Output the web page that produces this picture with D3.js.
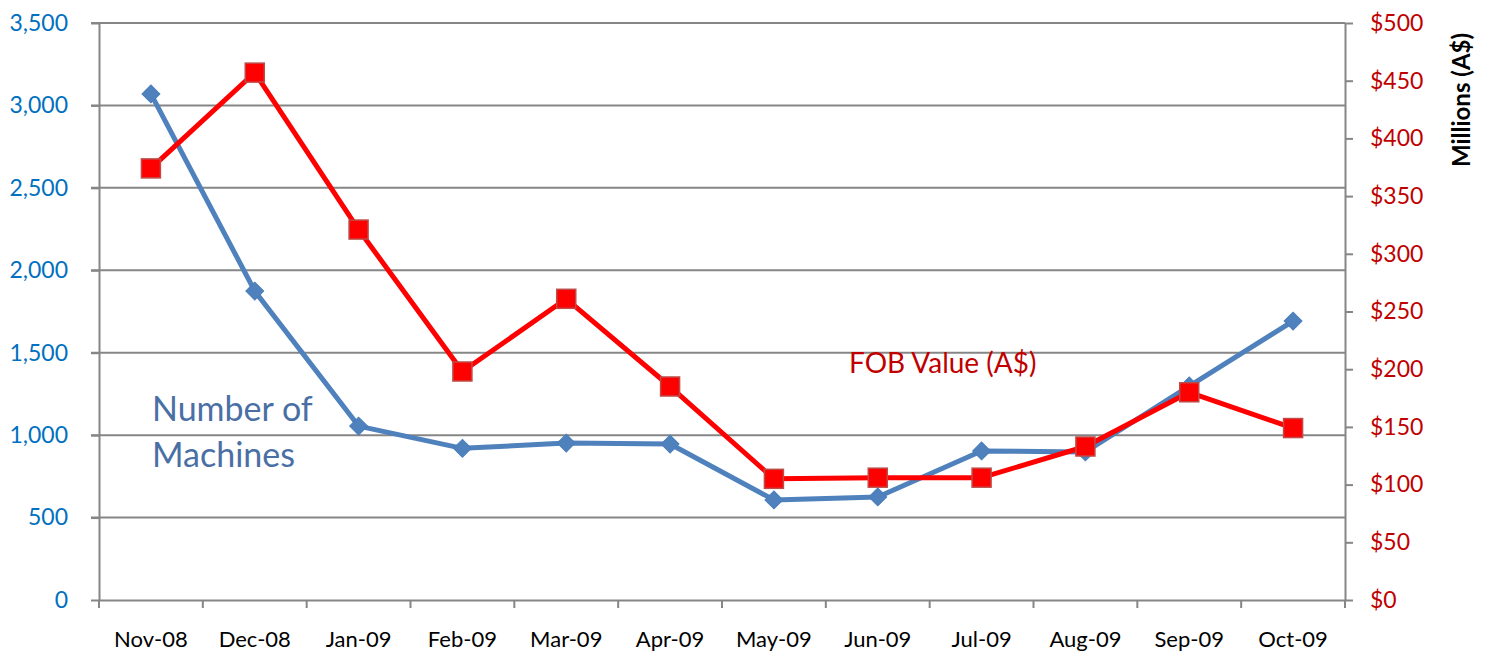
<!DOCTYPE html>
<html>
<head>
<meta charset="utf-8">
<script src="https://cdn.jsdelivr.net/npm/d3@7"></script>
<style>
  body { margin: 0; background: #fff; }
  svg { font-family: Lato, "Open Sans", sans-serif; }
</style>
</head>
<body>
<svg id="chart"></svg>
<script>
const months = ['Nov-08','Dec-08','Jan-09','Feb-09','Mar-09','Apr-09','May-09','Jun-09','Jul-09','Aug-09','Sep-09','Oct-09']
const machines = [3070, 1874, 1055, 920, 952, 946, 607, 625, 904, 898, 1298, 1692]
const fobValue = [374, 457, 321, 198, 261, 185, 105, 106, 106, 133, 180, 149]
const leftTicks = [0, 500, 1000, 1500, 2000, 2500, 3000, 3500]
const rightTicks = [0, 50, 100, 150, 200, 250, 300, 350, 400, 450, 500]

const width = 1486, height = 664
const margin = {top: 23, right: 141, bottom: 64, left: 99}
const font = 'Lato, "Open Sans", sans-serif'

const svg = d3.select('#chart').attr('width', width).attr('height', height)

const x = d3.scaleBand()
  .domain(months)
  .range([margin.left, width - margin.right])

const yL = d3.scaleLinear().domain([0, 3500]).range([height - margin.bottom, margin.top])
const yR = d3.scaleLinear().domain([0, 500]).range([height - margin.bottom, margin.top])

const axisColor = '#868686'

// gridlines
svg.append('g')
  .selectAll('line')
  .data(leftTicks.slice(1))
  .join('line')
    .attr('x1', margin.left - 8)
    .attr('x2', width - margin.right)
    .attr('y1', d => yL(d))
    .attr('y2', d => yL(d))
    .attr('stroke', axisColor)
    .attr('stroke-width', 2)

// left axis
const gl = svg.append('g')
  .attr('transform', 'translate(' + margin.left + ',0)')
  .call(d3.axisLeft(yL).tickValues(leftTicks).tickFormat(d3.format(',')).tickSize(8).tickPadding(23).tickSizeOuter(0))
gl.attr('font-family', font)
gl.select('.domain').attr('stroke', axisColor).attr('stroke-width', 2)
gl.selectAll('.tick line').attr('stroke', axisColor).attr('stroke-width', 2)
gl.selectAll('.tick text').attr('fill', '#0070c0').style('font-size', '23px')

// right axis
const gr = svg.append('g')
  .attr('transform', 'translate(' + (width - margin.right) + ',0)')
  .call(d3.axisRight(yR).tickValues(rightTicks).tickFormat(d => '$' + d).tickSize(8).tickPadding(17).tickSizeOuter(0))
gr.attr('font-family', font)
gr.select('.domain').attr('stroke', axisColor).attr('stroke-width', 2)
gr.selectAll('.tick line').attr('stroke', axisColor).attr('stroke-width', 2)
gr.selectAll('.tick text').attr('fill', '#c00000').style('font-size', '23px')

// bottom axis
const gb = svg.append('g')
  .attr('transform', 'translate(0,' + (height - margin.bottom) + ')')
  .call(d3.axisBottom(x).tickSize(0).tickPadding(31))
gb.attr('font-family', font)
gb.select('.domain').attr('stroke', axisColor).attr('stroke-width', 2)
gb.selectAll('.tick text').attr('fill', '#000').style('font-size', '22px')
svg.append('g')
  .selectAll('line')
  .data(months.concat(['end']))
  .join('line')
    .attr('x1', (d, i) => margin.left + i * x.step())
    .attr('x2', (d, i) => margin.left + i * x.step())
    .attr('y1', height - margin.bottom)
    .attr('y2', height - margin.bottom + 8)
    .attr('stroke', axisColor)
    .attr('stroke-width', 2)

const cx = d => x(d) + x.bandwidth() / 2

// machines series
svg.append('path')
  .datum(machines)
  .attr('fill', 'none')
  .attr('stroke', '#4f81bd')
  .attr('stroke-width', 5)
  .attr('stroke-linejoin', 'round')
  .attr('d', d3.line().x((d, i) => cx(months[i])).y(d => yL(d)))

svg.append('g')
  .selectAll('path')
  .data(machines)
  .join('path')
    .attr('d', d3.symbol(d3.symbolSquare, 160)())
    .attr('transform', (d, i) => 'translate(' + cx(months[i]) + ',' + yL(d) + ') rotate(45)')
    .attr('fill', '#4f81bd')
    .attr('stroke', '#4a7ebb')
    .attr('stroke-width', 1)

// FOB series
svg.append('path')
  .datum(fobValue)
  .attr('fill', 'none')
  .attr('stroke', '#ff0000')
  .attr('stroke-width', 5)
  .attr('stroke-linejoin', 'round')
  .attr('d', d3.line().x((d, i) => cx(months[i])).y(d => yR(d)))

svg.append('g')
  .selectAll('rect')
  .data(fobValue)
  .join('rect')
    .attr('x', (d, i) => cx(months[i]) - 9.5)
    .attr('y', d => yR(d) - 9.5)
    .attr('width', 19)
    .attr('height', 19)
    .attr('fill', '#ff0000')
    .attr('stroke', '#be4b48')
    .attr('stroke-width', 1.5)

// annotations
const note = svg.append('text')
  .attr('fill', '#4a6fa5')
  .style('font-size', '34px')
note.append('tspan').attr('x', 152).attr('y', 421).text('Number of')
note.append('tspan').attr('x', 152).attr('y', 467).text('Machines')

svg.append('text')
  .attr('x', 849).attr('y', 373)
  .attr('fill', '#c00000')
  .style('font-size', '28px')
  .text('FOB Value (A$)')

svg.append('text')
  .attr('transform', 'translate(1470,100) rotate(-90)')
  .attr('text-anchor', 'middle')
  .attr('fill', '#000')
  .style('font-size', '24px')
  .style('font-weight', 'bold')
  .text('Millions (A$)')
</script>
</body>
</html>
